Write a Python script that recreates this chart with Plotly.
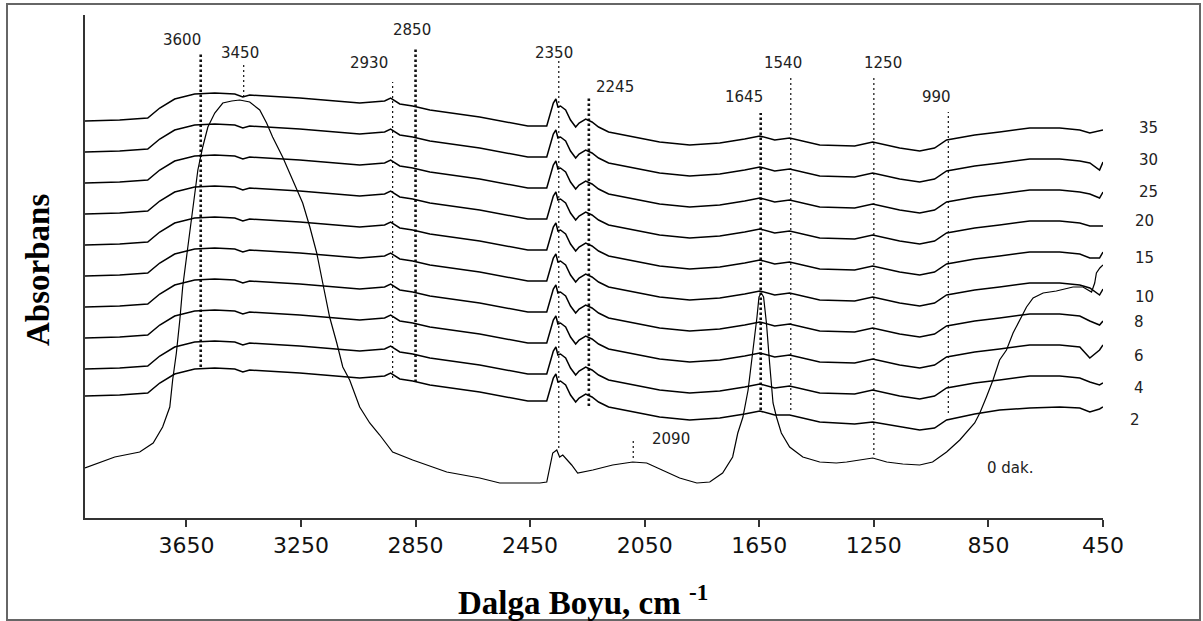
import plotly.graph_objects as go

# ---------------- data ----------------
# common wavenumber grid (cm-1) for the stacked spectra 2..35 min
wavenumber = [4004, 3883, 3785, 3743, 3691, 3621, 3551, 3481, 3453, 3429,
              3254, 3045, 2958, 2937, 2905, 2860, 2800, 2626, 2458, 2392,
              2383, 2369, 2360, 2353, 2344, 2326, 2309, 2291, 2279, 2256,
              2234, 2211, 2176, 1998, 1893, 1788, 1701, 1648, 1596, 1544,
              1439, 1317, 1254, 1160, 1090, 1038, 996, 898, 811, 706,
              601, 531, 496, 462, 450]

abs_35 = [397, 398, 400, 410, 419, 424, 425, 424, 421, 423,
          420, 415, 417, 420, 414, 412, 408, 401, 392, 392,
          401, 415, 419, 411, 412, 408, 398, 391, 395, 399,
          396, 391, 386, 376, 373, 375, 379, 382, 378, 380,
          373, 372, 376, 370, 367, 370, 378, 383, 386, 390,
          390, 388, 385, 387, 388]
abs_30 = [366, 367, 369, 379, 388, 393, 394, 393, 390, 392,
          389, 384, 386, 389, 383, 381, 377, 370, 361, 361,
          370, 384, 388, 380, 381, 377, 367, 360, 364, 368,
          365, 360, 355, 345, 342, 344, 348, 351, 347, 349,
          342, 341, 345, 339, 336, 339, 347, 352, 355, 359,
          359, 357, 355, 348, 356]
abs_25 = [335, 336, 338, 348, 357, 362, 363, 362, 359, 361,
          358, 353, 355, 358, 352, 350, 346, 339, 330, 330,
          339, 353, 357, 349, 350, 346, 336, 329, 333, 337,
          334, 329, 324, 314, 311, 313, 317, 320, 316, 318,
          311, 310, 314, 308, 305, 308, 316, 321, 324, 328,
          328, 326, 324, 320, 326]
abs_20 = [304, 305, 307, 317, 326, 331, 332, 331, 328, 330,
          327, 322, 324, 327, 321, 319, 315, 308, 299, 299,
          308, 322, 326, 318, 319, 315, 305, 298, 302, 306,
          303, 298, 293, 283, 280, 282, 286, 289, 285, 287,
          280, 279, 283, 277, 274, 277, 285, 290, 293, 297,
          297, 295, 292, 292, 292]
abs_15 = [273, 274, 276, 286, 295, 300, 301, 300, 297, 299,
          296, 291, 293, 296, 290, 288, 284, 277, 268, 268,
          277, 291, 295, 287, 288, 284, 274, 267, 271, 275,
          272, 267, 262, 252, 249, 251, 255, 258, 254, 256,
          249, 248, 252, 246, 243, 246, 254, 259, 262, 266,
          266, 264, 260, 260, 266]
abs_10 = [242, 243, 245, 255, 264, 269, 270, 269, 266, 268,
          265, 260, 262, 265, 259, 257, 253, 246, 237, 237,
          246, 260, 264, 256, 257, 253, 243, 236, 240, 244,
          241, 236, 231, 221, 218, 220, 224, 227, 223, 225,
          218, 217, 221, 215, 212, 215, 223, 228, 231, 235,
          235, 233, 230, 223, 229]
abs_8 = [211, 212, 214, 224, 233, 238, 239, 238, 235, 237,
         234, 229, 231, 234, 228, 226, 222, 215, 206, 206,
         215, 229, 233, 225, 226, 222, 212, 205, 209, 213,
         210, 205, 200, 190, 187, 189, 193, 196, 192, 194,
         187, 186, 190, 184, 181, 184, 192, 197, 200, 204,
         204, 202, 197, 193, 197]
abs_6 = [180, 181, 183, 193, 202, 207, 208, 207, 204, 206,
         203, 198, 200, 203, 197, 195, 191, 184, 175, 175,
         184, 198, 202, 194, 195, 191, 181, 174, 178, 182,
         179, 174, 169, 159, 156, 158, 162, 165, 161, 163,
         156, 155, 159, 153, 150, 153, 161, 166, 169, 173,
         173, 171, 160, 168, 173]
abs_4 = [149, 150, 152, 162, 171, 176, 177, 176, 173, 175,
         172, 167, 169, 172, 166, 164, 160, 153, 144, 144,
         153, 167, 171, 163, 164, 160, 150, 143, 147, 151,
         148, 143, 138, 128, 125, 127, 131, 134, 130, 132,
         125, 124, 128, 122, 119, 122, 130, 135, 138, 142,
         142, 140, 136, 133, 135]
abs_2 = [122, 123, 125, 135, 144, 149, 150, 149, 146, 148,
         145, 140, 142, 145, 139, 137, 133, 126, 117, 117,
         126, 140, 144, 136, 137, 133, 123, 116, 120, 124,
         121, 116, 111, 101, 98, 100, 104, 107, 103, 103,
         96, 94, 96, 91, 88, 90, 98, 104, 108, 110,
         111, 110, 106, 109, 111]

# spectrum at 0 min (own grid)
wavenumber_0 = [4004, 3900, 3813, 3766, 3733, 3708, 3698, 3685, 3673, 3663,
                3645, 3628, 3610, 3593, 3575, 3551, 3523, 3492, 3464, 3429,
                3394, 3370, 3349, 3314, 3279, 3244, 3219, 3195, 3174, 3150,
                3125, 3104, 3080, 3045, 3010, 2975, 2930, 2860, 2741, 2626,
                2556, 2416, 2392, 2382, 2371, 2357, 2347, 2336, 2305, 2284,
                2231, 2162, 2092, 2043, 1987, 1928, 1868, 1823, 1778, 1743,
                1725, 1707, 1689, 1677, 1666, 1658, 1651, 1643, 1635, 1625,
                1614, 1602, 1590, 1573, 1544, 1498, 1439, 1381, 1345, 1299,
                1254, 1205, 1149, 1090, 1045, 996, 950, 898, 880, 857,
                834, 811, 787, 764, 741, 717, 694, 659, 613, 555,
                520, 502, 490, 479, 473, 461, 450]
abs_0 = [50, 61, 66, 75, 91, 111, 138, 165, 198, 231,
         271, 311, 348, 371, 391, 405, 415, 417, 418, 416,
         408, 395, 381, 361, 338, 315, 291, 265, 235, 201,
         175, 151, 138, 111, 95, 83, 66, 58, 46, 40,
         35, 35, 36, 51, 65, 68, 61, 63, 53, 45,
         48, 53, 56, 55, 48, 40, 35, 36, 45, 61,
         85, 101, 128, 155, 181, 201, 221, 225, 221, 195,
         155, 115, 101, 85, 71, 61, 56, 55, 56, 58,
         60, 56, 54, 53, 56, 66, 78, 95, 105, 121,
         138, 158, 168, 185, 198, 211, 220, 225, 227, 231,
         231, 228, 226, 235, 245, 250, 253]

time_labels = ["35", "30", "25", "20", "15", "10", "8", "6", "4", "2"]
stacked = [abs_35, abs_30, abs_25, abs_20, abs_15, abs_10, abs_8, abs_6, abs_4, abs_2]
time_label_y = [390, 358, 326, 297.5, 260, 221, 196, 162, 130, 98.5]

# band markers
band_labels = ["3600", "3450", "2930", "2850", "2350", "2245", "1645", "1540", "1250", "990", "2090"]
band_wn = [3600, 3450, 2930, 2850, 2350, 2245, 1645, 1540, 1250, 990, 2090]
band_top = [466, 454, 436, 470, 457, 422, 405, 440, 440, 406, 80]
band_bottom = [151, 421, 140, 136, 70, 112, 108, 108, 63, 105, 60]
band_heavy = [True, False, False, True, False, True, True, False, False, False, False]
band_label_x = [3667, 3464, 3013, 2864, 2368, 2155, 1704, 1567, 1219, 1032, 1957]
band_label_y = [478, 465, 455, 488, 465, 431, 421, 455, 455, 421, 79]

x_ticks = [3650, 3250, 2850, 2450, 2050, 1650, 1250, 850, 450]

# ---------------- figure ----------------
W, H = 1203, 621
ML, MR, MT, MB = 85, 100, 15, 103
PW, PH = W - ML - MR, H - MT - MB


def px_x(px):
    return (px - ML) / PW


def px_y(py):
    return (H - MB - py) / PH


fig = go.Figure()

# dotted band lines
for wn, lo, hi, heavy in zip(band_wn, band_bottom, band_top, band_heavy):
    fig.add_trace(go.Scatter(
        x=[wn, wn], y=[lo, hi], mode="lines",
        line=dict(color="#111111", width=2.6 if heavy else 1.2,
                  dash="2.5px,2.5px" if heavy else "2px,3px"),
        hoverinfo="skip", showlegend=False))

for vals in stacked:
    fig.add_trace(go.Scatter(x=wavenumber, y=vals, mode="lines",
                             line=dict(color="#000000", width=1.5),
                             showlegend=False))

fig.add_trace(go.Scatter(x=wavenumber_0, y=abs_0, mode="lines",
                         line=dict(color="#000000", width=1.2),
                         showlegend=False))

annotations = []
label_font = dict(family="DejaVu Sans", size=15, color="#222222")
for t, wx, wy in zip(band_labels, band_label_x, band_label_y):
    annotations.append(dict(x=wx, y=wy, xref="x", yref="y", text=t, showarrow=False,
                            font=label_font, xanchor="center", yanchor="middle"))

time_px = [1137, 1137, 1137, 1133, 1133, 1133, 1132, 1132, 1132, 1128]
for t, px, yy in zip(time_labels, time_px, time_label_y):
    annotations.append(dict(x=px_x(px), y=yy, xref="paper", yref="y", text=t,
                            showarrow=False, font=label_font,
                            xanchor="left", yanchor="middle"))

annotations.append(dict(x=773, y=50, xref="x", yref="y", text="0 dak.", showarrow=False,
                        font=label_font, xanchor="center", yanchor="middle"))

title_font = dict(family="Liberation Serif, Times New Roman, serif", size=33, color="#000000")
annotations.append(dict(x=px_x(583), y=px_y(600), xref="paper", yref="paper",
                        text="<b>Dalga Boyu, cm <sup>-1</sup></b>", showarrow=False,
                        font=title_font, xanchor="center", yanchor="middle"))
annotations.append(dict(x=px_x(38), y=px_y(270), xref="paper", yref="paper",
                        text="<b>Absorbans</b>", textangle=-90, showarrow=False,
                        font=title_font, xanchor="center", yanchor="middle"))

fig.update_layout(
    width=W, height=H,
    margin=dict(l=ML, r=MR, t=MT, b=MB, pad=0),
    paper_bgcolor="white", plot_bgcolor="white",
    showlegend=False,
    annotations=annotations,
    shapes=[dict(type="rect", xref="paper", yref="paper",
                 x0=px_x(7), x1=px_x(1200), y0=px_y(620), y1=px_y(4),
                 line=dict(color="#666666", width=2), fillcolor="rgba(0,0,0,0)",
                 layer="below")],
    xaxis=dict(range=[4004, 450], tickvals=x_ticks,
               ticktext=[str(v) for v in x_ticks],
               showgrid=False, zeroline=False, showline=True,
               linecolor="#333333", linewidth=1.5,
               ticks="outside", ticklen=7, tickwidth=1.5, tickcolor="#333333",
               tickfont=dict(family="DejaVu Sans", size=22, color="#111111")),
    yaxis=dict(range=[0, PH], showgrid=False, zeroline=False, showline=True,
               linecolor="#333333", linewidth=1.5, showticklabels=False, ticks=""),
)

fig.write_html("out.html", config={"displayModeBar": False},
               post_script="document.body.style.margin='0';")
